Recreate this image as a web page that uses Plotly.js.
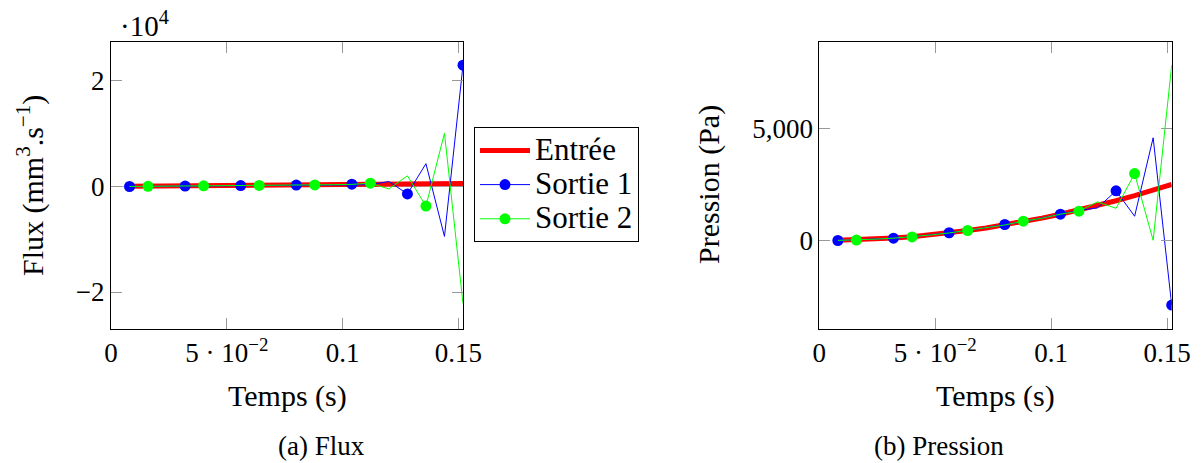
<!DOCTYPE html>
<html>
<head>
<meta charset="utf-8">
<script src="https://cdn.plot.ly/plotly-3.0.1.min.js"></script>
<style>
  html, body { margin: 0; padding: 0; background: #fff; }
  #chart { width: 1204px; height: 463px; }
</style>
</head>
<body>
<div id="chart"></div>
<script>
// Time samples (s)
const temps = [0.008, 0.016, 0.024, 0.032, 0.040, 0.048, 0.056, 0.064, 0.072, 0.080,
               0.088, 0.096, 0.104, 0.112, 0.120, 0.128, 0.136, 0.144, 0.152];

// (a) Flux (mm^3/s)
const fluxEntree = [25, 55, 85, 115, 150, 180, 210, 240, 270, 300,
                    330, 360, 390, 420, 450, 480, 510, 540, 570];
const fluxSortie1 = [0, 30, 60, 90, 120, 150, 180, 210, 240, 270,
                     300, 330, 440, 330, 950, -1400, 4320, -9460, 23000];
const fluxSortie2 = [10, 30, 60, 90, 120, 150, 180, 210, 240, 270,
                     300, 340, 400, 620, -460, 2020, -3700, 10100, -22200];

// (b) Pression (Pa)
const presEntree = [7, 28, 62, 110, 172, 248, 338, 442, 560, 691,
                    836, 995, 1168, 1354, 1555, 1769, 1997, 2239, 2495];
const presSortie1 = [0, 25, 60, 102, 168, 245, 345, 440, 560, 712,
                     835, 995, 1171, 1340, 1450, 2210, 1080, 4570, -2870];
const presSortie2 = [5, 20, 60, 105, 160, 245, 335, 445, 560, 690,
                     859, 990, 1170, 1305, 1720, 1430, 2975, 10, 7800];

// Tick labels
const xTickVals = [0, 0.05, 0.1, 0.15];
const xTickText = ['0', '5 · 10<sup>−2</sup>', '0.1', '0.15'];
const fluxTickVals = [-20000, 0, 20000];
const fluxTickText = ['−2', '0', '2'];
const presTickVals = [0, 5000];
const presTickText = ['0', '5,000'];

const seriesNames = ['Entrée', 'Sortie 1', 'Sortie 2'];
const seriesColors = ['#ff0000', '#0000ff', '#00ff00'];

const FONT = 'Liberation Serif, Times New Roman, serif';
const MS = 11;

function pick(arr, phase) {
  return arr.filter((_, i) => i % 3 === phase);
}

function panel(xa, ya, entree, s1, s2) {
  const tr = [];
  tr.push({x: temps, y: entree, xaxis: xa, yaxis: ya, mode: 'lines',
           line: {color: seriesColors[0], width: 5}, showlegend: false});
  tr.push({x: temps, y: s1, xaxis: xa, yaxis: ya, mode: 'lines',
           line: {color: seriesColors[1], width: 1}, showlegend: false});
  tr.push({x: pick(temps, 0), y: pick(s1, 0), xaxis: xa, yaxis: ya, mode: 'markers',
           marker: {color: seriesColors[1], size: MS}, showlegend: false});
  tr.push({x: temps, y: s2, xaxis: xa, yaxis: ya, mode: 'lines',
           line: {color: seriesColors[2], width: 1}, showlegend: false});
  tr.push({x: pick(temps, 1), y: pick(s2, 1), xaxis: xa, yaxis: ya, mode: 'markers',
           marker: {color: seriesColors[2], size: MS}, showlegend: false});
  return tr;
}

const traces = [].concat(
  panel('x', 'y', fluxEntree, fluxSortie1, fluxSortie2),
  panel('x2', 'y2', presEntree, presSortie1, presSortie2)
);
// legend entries
function legName(s) { return '<span style="font-size:31px">' + s + '</span>'; }
traces.push({x: [null], y: [null], name: legName(seriesNames[0]), mode: 'lines',
             line: {color: seriesColors[0], width: 5}});
traces.push({x: [null], y: [null], name: legName(seriesNames[1]), mode: 'lines+markers',
             line: {color: seriesColors[1], width: 1}, marker: {color: seriesColors[1], size: MS}});
traces.push({x: [null], y: [null], name: legName(seriesNames[2]), mode: 'lines+markers',
             line: {color: seriesColors[2], width: 1}, marker: {color: seriesColors[2], size: MS}});

const W = 1204, H = 463;
const yDom = [1 - 328.6 / H, 1 - 41.7 / H];

const axCommon = {
  ticks: 'inside', ticklen: 11, tickcolor: '#999', tickwidth: 1,
  showline: true, linecolor: '#000', linewidth: 1, mirror: 'ticks',
  showgrid: false, zeroline: false, tickmode: 'array',
  tickfont: {family: FONT, size: 27, color: '#000'}
};

function ann(text, x, y, size, angle) {
  return {text: text, xref: 'paper', yref: 'paper', x: x / W, y: 1 - y / H,
          xanchor: 'center', yanchor: 'middle', showarrow: false,
          textangle: angle || 0, font: {family: FONT, size: size, color: '#000'}};
}

const layout = {
  width: W, height: H,
  margin: {l: 0, r: 0, t: 0, b: 0},
  paper_bgcolor: '#fff', plot_bgcolor: '#fff',
  font: {family: FONT, size: 27, color: '#000'},
  showlegend: true,
  legend: {
    x: 474 / W, y: 1 - 127.3 / H, xanchor: 'left', yanchor: 'top',
    bordercolor: '#000', borderwidth: 1, bgcolor: '#fff', itemwidth: 50,
    font: {family: FONT, size: 24, color: '#000'}
  },
  xaxis: Object.assign({}, axCommon, {
    domain: [111 / W, 463 / W], range: [0, 0.152], anchor: 'y',
    tickvals: xTickVals, ticktext: xTickText
  }),
  yaxis: Object.assign({}, axCommon, {
    domain: yDom, range: [-26930, 27440], anchor: 'x',
    tickvals: fluxTickVals, ticktext: fluxTickText,
    zeroline: true, zerolinecolor: '#b0b0b0', zerolinewidth: 1
  }),
  xaxis2: Object.assign({}, axCommon, {
    domain: [819.3 / W, 1171.7 / W], range: [0, 0.152], anchor: 'y2',
    tickvals: xTickVals, ticktext: xTickText
  }),
  yaxis2: Object.assign({}, axCommon, {
    domain: yDom, range: [-3918, 8842], anchor: 'x2',
    tickvals: presTickVals, ticktext: presTickText
  }),
  annotations: [
    // axis titles
    ann('Temps (s)', 287, 396, 30),
    ann('Temps (s)', 995.5, 396, 30),
    ann('Flux (mm<sup>3</sup>.s<sup>−1</sup>)', 31, 186, 30, -90),
    ann('Pression (Pa)', 709, 185, 30, -90),
    // axis multiplier
    {text: '·10<sup>4</sup>', xref: 'paper', yref: 'paper', x: 118 / W, y: 1 - 24 / H,
     xanchor: 'left', yanchor: 'middle', showarrow: false, font: {family: FONT, size: 29}},
    // captions
    ann('(a) Flux', 322, 446, 27),
    ann('(b) Pression', 939, 446, 27)
  ]
};

Plotly.newPlot('chart', traces, layout, {staticPlot: true, displayModeBar: false});
</script>
</body>
</html>
